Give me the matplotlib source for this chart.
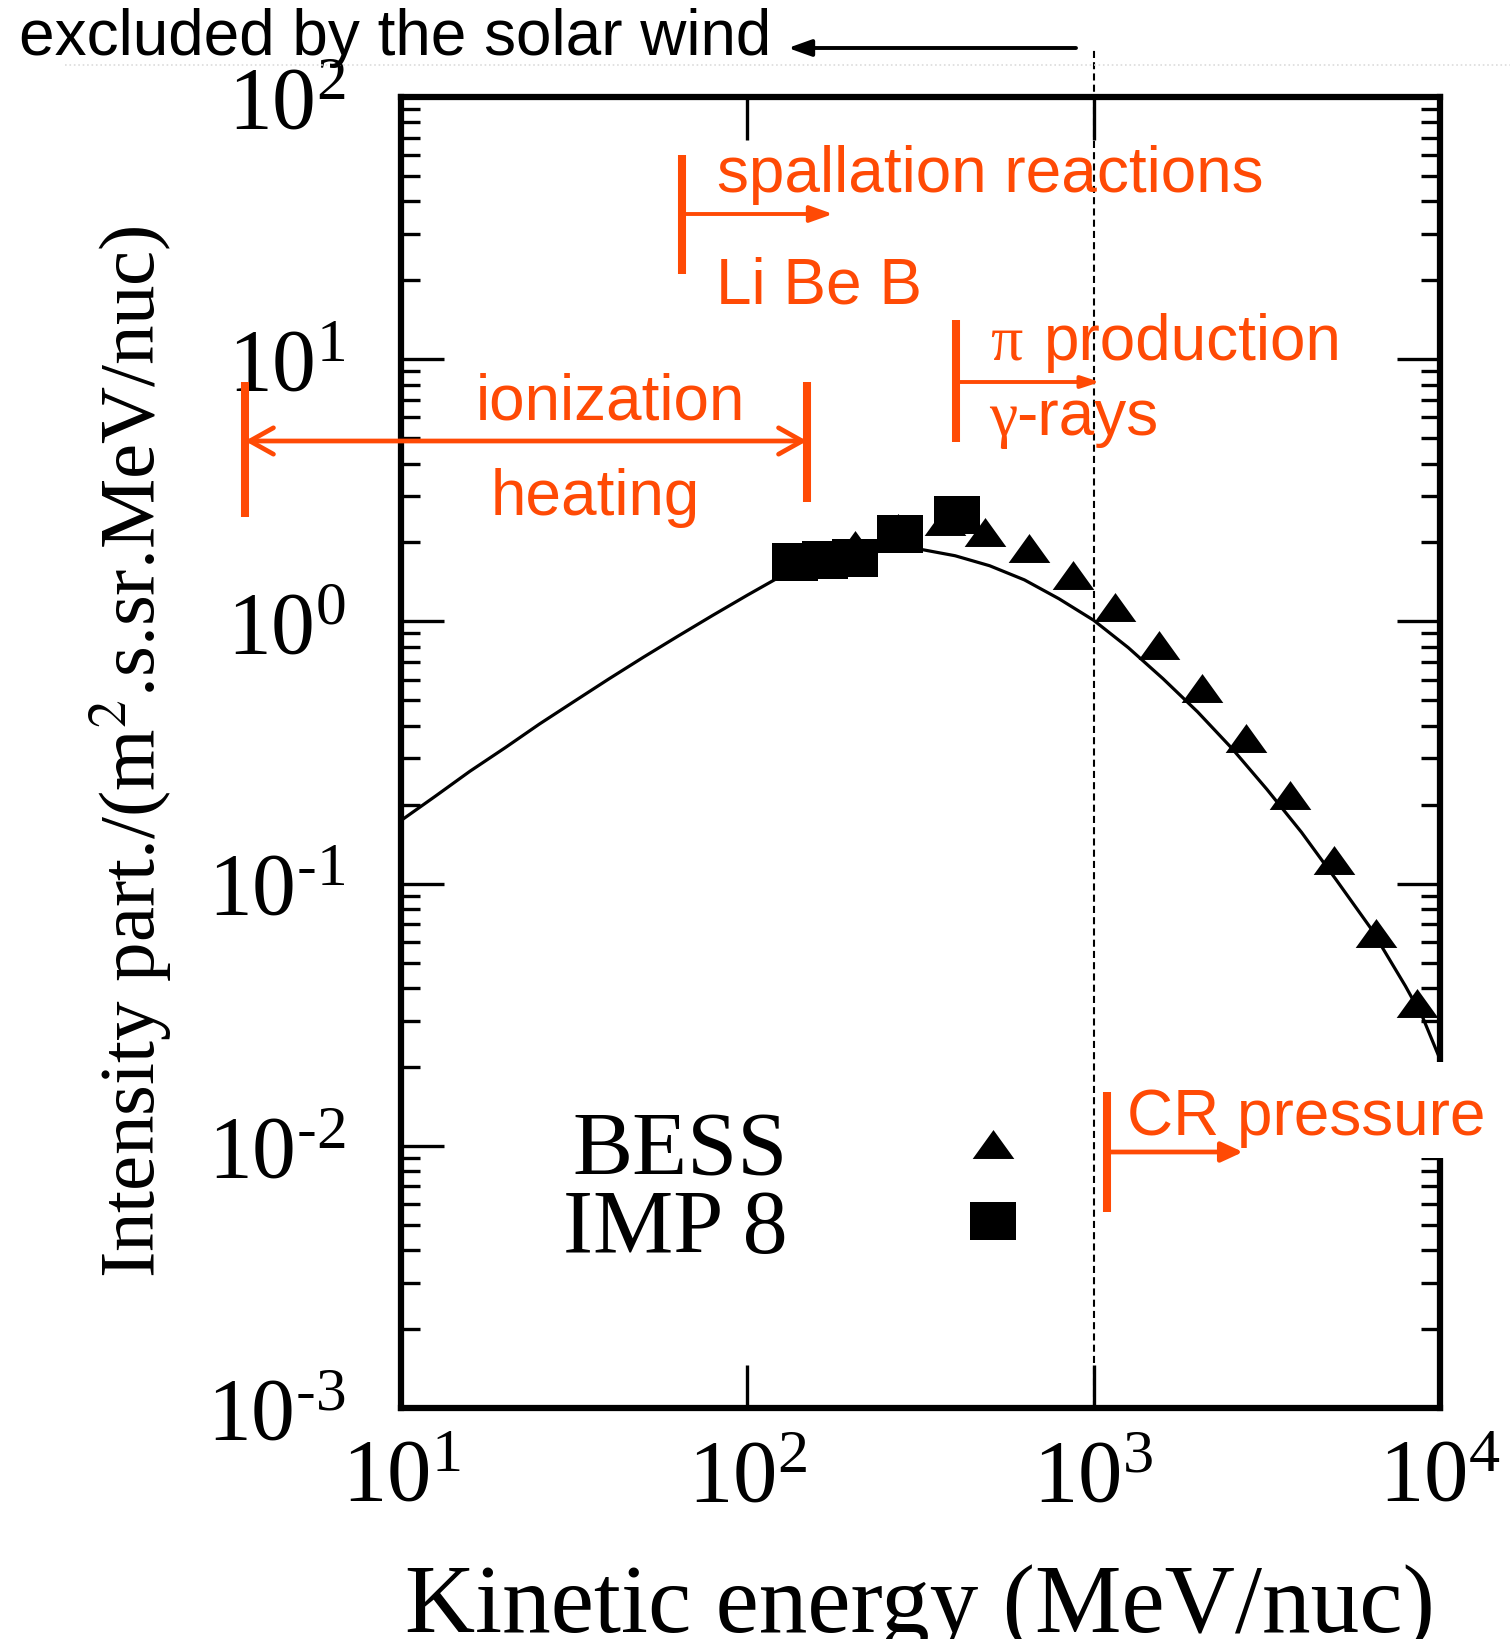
import matplotlib
matplotlib.use('Agg')
import matplotlib.pyplot as plt
from matplotlib.patches import FancyArrowPatch, Rectangle
from matplotlib.lines import Line2D
from matplotlib.path import Path
from matplotlib.ticker import LogLocator, NullFormatter, FuncFormatter
import math

plt.rcParams['font.family'] = ['Liberation Serif', 'DejaVu Serif']
plt.rcParams['mathtext.fontset'] = 'stix'

# ---------------- data ----------------
curve_energy = [10, 12.6, 15.8, 20, 25.1, 31.6, 39.8, 50.1, 63.1, 79.4, 100,
                126, 158, 200, 251, 316, 398, 501, 631, 794, 1000, 1259, 1585,
                1995, 2512, 3162, 3981, 5012, 6310, 7943, 8913, 10000]
curve_intensity = [0.174, 0.216, 0.268, 0.330, 0.406, 0.495, 0.603, 0.730,
                   0.879, 1.054, 1.259, 1.496, 1.679, 1.799, 1.862, 1.884,
                   1.78, 1.63, 1.44, 1.22, 1.01, 0.794, 0.605, 0.452, 0.327,
                   0.229, 0.157, 0.1035, 0.0676, 0.0407, 0.0309, 0.0214]

bess_energy = [205, 272, 372, 485, 650, 871, 1153, 1545, 2056, 2754, 3690,
               4943, 6547, 8590]
bess_intensity = [1.96, 2.28, 2.42, 2.19, 1.90, 1.50, 1.13, 0.81, 0.557,
                  0.359, 0.218, 0.123, 0.0648, 0.0351]

imp8_energy = [137, 168, 205, 276, 403]
imp8_intensity = [1.69, 1.71, 1.75, 2.15, 2.55]

series_labels = ['BESS', 'IMP 8']
x_ticks = [1e1, 1e2, 1e3, 1e4]
y_ticks = [1e-3, 1e-2, 1e-1, 1e0, 1e1, 1e2]
x_label = 'Kinetic energy (MeV/nuc)'
y_label = r'Intensity part./(m$^{2}$.s.sr.MeV/nuc)'
boundary_energy = 1000

ORANGE = '#FF4A05'

# ---------------- figure ----------------
W, H = 1510, 1639
fig = plt.figure(figsize=(W / 100, H / 100), dpi=100)


def fx(px):
    return px / W


def fy(py):
    return 1 - py / H


ax = fig.add_axes([fx(401), fy(1408), fx(1440) - fx(401), fy(97) - fy(1408)])
ax.set_xscale('log')
ax.set_yscale('log')
ax.set_xlim(x_ticks[0], x_ticks[-1])
ax.set_ylim(y_ticks[0], y_ticks[-1])

tri_marker = Path([(-0.72, -0.5), (0.72, -0.5), (0, 0.5), (-0.72, -0.5)])
sq_marker = Path([(-0.6, -0.5), (0.6, -0.5), (0.6, 0.5), (-0.6, 0.5), (-0.6, -0.5)])

ax.plot(curve_energy, curve_intensity, color='black', lw=2.3, zorder=2)
ax.plot(bess_energy, bess_intensity, ls='none', marker=tri_marker, ms=30,
        color='black', mew=0, zorder=3)
ax.plot(imp8_energy, imp8_intensity, ls='none', marker=sq_marker, ms=32.5,
        color='black', mew=0, zorder=4)

ax.axvline(boundary_energy, ymin=0, ymax=1 + 49 / 1311, clip_on=False,
           color='black', lw=1.5, dashes=(3.4, 2.0), zorder=5)


def pow10(v, pos):
    e = int(round(math.log10(v)))
    if e < 0:
        return r'$\mathregular{10^{\text{-}%d}}$' % (-e)
    return r'$\mathregular{10^{%d}}$' % e


ax.set_xticks(x_ticks)
ax.set_yticks(y_ticks)
ax.xaxis.set_major_formatter(FuncFormatter(pow10))
ax.yaxis.set_major_formatter(FuncFormatter(pow10))
ax.xaxis.set_minor_locator(LogLocator(base=10, subs=range(2, 10)))
ax.yaxis.set_minor_locator(LogLocator(base=10, subs=range(2, 10)))
ax.xaxis.set_minor_formatter(NullFormatter())
ax.yaxis.set_minor_formatter(NullFormatter())
ax.tick_params(which='both', direction='in', top=True, right=True, width=2.4,
               color='black')
ax.tick_params(which='major', length=31)
ax.tick_params(which='minor', length=14)
ax.tick_params(axis='x', which='major', labelsize=64, pad=22)
ax.tick_params(axis='y', which='major', labelsize=63, pad=40)
for s in ax.spines.values():
    s.set_linewidth(4.5)

# legend
handles = [Line2D([], [], ls='none', marker=tri_marker, ms=30, color='black', mew=0),
           Line2D([], [], ls='none', marker=sq_marker, ms=32.5, color='black', mew=0)]
leg = ax.legend(handles, series_labels, markerfirst=False, frameon=False,
                loc='center right', bbox_to_anchor=(fx(1018), fy(1192)),
                bbox_transform=fig.transFigure, fontsize=65, handlelength=0.55,
                handletextpad=2.0, labelspacing=-0.06, borderpad=0,
                borderaxespad=0)

# axis labels
fig.text(fx(920), fy(1632), x_label, ha='center', va='baseline', fontsize=70)
fig.text(fx(131), fy(752), y_label, rotation=90, ha='center', va='center',
         fontsize=57)

# ---------------- annotations ----------------
sans = ['Liberation Sans', 'DejaVu Sans']

# faint scan border line
fig.add_artist(Line2D([fx(65), fx(1510)], [fy(65), fy(65)], color='#dcdcdc',
                      lw=1.2, ls=':', transform=fig.transFigure))

# excluded by the solar wind
fig.text(fx(19), fy(55), 'excluded by the solar wind', family=sans, fontsize=46,
         color='black', ha='left', va='baseline')
fig.add_artist(FancyArrowPatch((fx(1076), fy(48)), (fx(788), fy(48)),
                               transform=fig.transFigure,
                               arrowstyle='-|>,head_length=14,head_width=5',
                               color='black', lw=2.8, shrinkA=0, shrinkB=0))

# white box behind CR pressure
fig.add_artist(Rectangle((fx(1109), fy(1158)), fx(1500) - fx(1109),
                         fy(1062) - fy(1158), transform=fig.transFigure,
                         facecolor='white', edgecolor='none', zorder=6))


def bar(x, y1, y2):
    fig.add_artist(Line2D([fx(x), fx(x)], [fy(y1), fy(y2)], color=ORANGE,
                          lw=5.8, solid_capstyle='butt',
                          transform=fig.transFigure, zorder=8))


def arrow(x1, x2, y, style, lw):
    fig.add_artist(FancyArrowPatch((fx(x1), fy(y)), (fx(x2), fy(y)),
                                   transform=fig.transFigure, arrowstyle=style,
                                   color=ORANGE, lw=lw, shrinkA=0, shrinkB=0,
                                   zorder=8))


def otext(x, y, s, fam=sans):
    fig.text(fx(x), fy(y), s, family=fam, fontsize=46, color=ORANGE,
             ha='left', va='baseline', zorder=9)


# spallation
bar(682, 155, 274)
arrow(682, 833, 214, '-|>,head_length=14,head_width=5', 2.8)
otext(717, 192, 'spallation reactions')
otext(716, 303, 'Li Be B')

# pi production
bar(956, 320, 442)
arrow(956, 1100, 382, '-|>,head_length=11,head_width=3.6', 2.8)
otext(990, 360, 'π', fam=['Liberation Serif'])
otext(1044, 360, 'production')
otext(989, 435, 'γ', fam=['Liberation Serif'])
otext(1016, 435, '-rays')

# ionization / heating
bar(245, 382, 517)
bar(807, 382, 502)
arrow(245, 807, 441, '<->,head_length=17,head_width=9.5', 3.4)
otext(476, 419, 'ionization')
otext(491, 515, 'heating')

# CR pressure
bar(1107, 1092, 1212)
arrow(1107, 1243, 1152, '-|>,head_length=13,head_width=6', 3.4)
otext(1127, 1135, 'CR pressure')

fig.savefig('out.png', dpi=100)
